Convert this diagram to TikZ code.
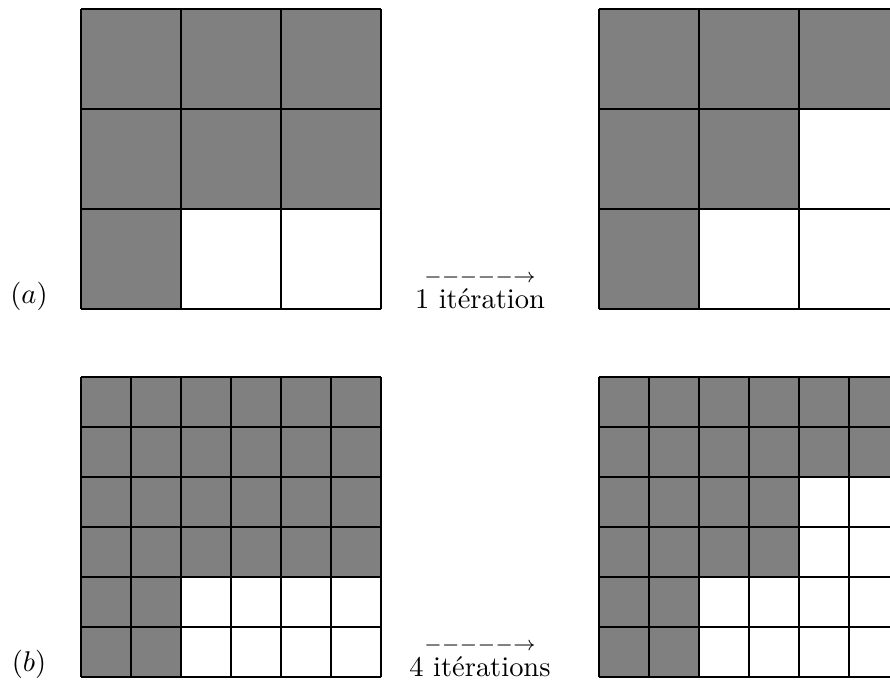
\documentclass[tikz,border=0pt]{standalone}
\begin{document}
\begin{tikzpicture}[x=0.351pt,y=-0.351pt,
  gl/.style={draw=black,line width=0.45pt},
  on/.style={fill=gray},
  off/.style={fill=white},
  lbl/.style={anchor=base,inner sep=0pt}]
\useasboundingbox (0,0) rectangle (890,686);
\clip (0,0) rectangle (890,686);
% top-left 3x3
\path[on] (81,9) rectangle (381,309);
\path[off] (181,209) rectangle (381,309);
\foreach \k in {0,...,3} {
  \draw[gl] ({81+100*\k},9) -- ({81+100*\k},309);
  \draw[gl] (81,{9+100*\k}) -- (381,{9+100*\k});
}
% top-right 3x3
\path[on] (599,9) rectangle (899,309);
\path[off] (799,109) rectangle (899,209);
\path[off] (699,209) rectangle (899,309);
\foreach \k in {0,...,3} {
  \draw[gl] ({599+100*\k},9) -- ({599+100*\k},309);
  \draw[gl] (599,{9+100*\k}) -- (899,{9+100*\k});
}
% bottom-left 6x6
\path[on] (81,377) rectangle (381,677);
\path[off] (181,577) rectangle (381,677);
\foreach \k in {0,...,6} {
  \draw[gl] ({81+50*\k},377) -- ({81+50*\k},677);
  \draw[gl] (81,{377+50*\k}) -- (381,{377+50*\k});
}
% bottom-right 6x6
\path[on] (599,377) rectangle (899,677);
\path[off] (799,477) rectangle (899,577);
\path[off] (699,577) rectangle (899,677);
\foreach \k in {0,...,6} {
  \draw[gl] ({599+50*\k},377) -- ({599+50*\k},677);
  \draw[gl] (599,{377+50*\k}) -- (899,{377+50*\k});
}
% labels
\node[lbl] (la) at (29,303) {$(a)$};
\node[lbl] (lb) at (29,671) {$(b)$};
\node[lbl] (ia) at (480,308) {$\stackrel{-----\rightarrow}{\mbox{1 itération}}$};
\node[lbl] (ib) at (480,676) {$\stackrel{-----\rightarrow}{\mbox{4 itérations}}$};
\end{tikzpicture}
\end{document}
